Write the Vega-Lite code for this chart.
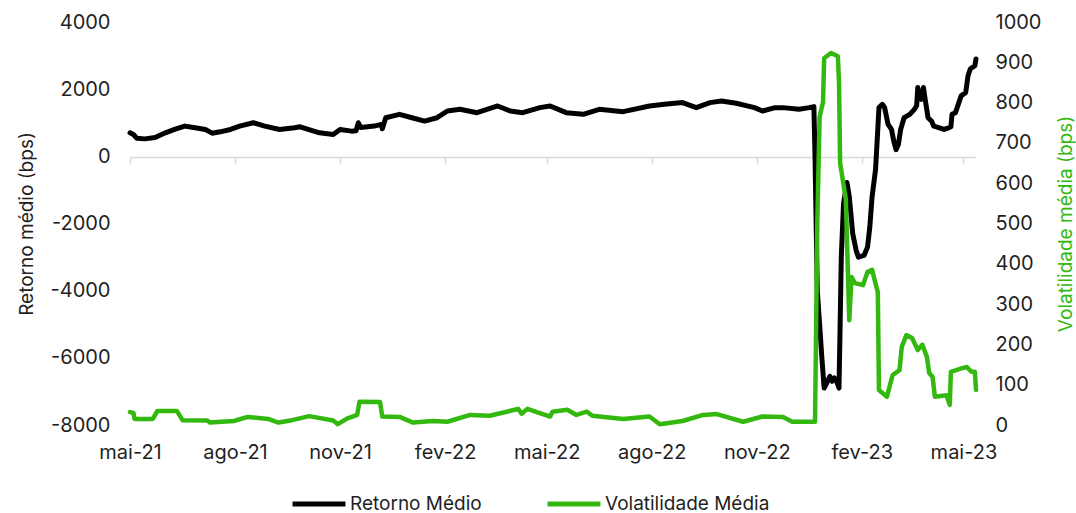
{
  "$schema": "https://vega.github.io/schema/vega-lite/v6.json",
  "width": 846,
  "height": 403,
  "autosize": {"type": "none"},
  "padding": {"left": 130, "top": 22, "right": 100, "bottom": 88},
  "config": {
    "font": "Inter",
    "view": {"stroke": null},
    "axis": {"grid": false, "labelFont": "Inter", "titleFont": "Inter", "labelColor": "#1f1f1f", "labelFontSize": 20, "titleFontSize": 19, "titleFontWeight": "normal", "titleColor": "#1f1f1f"}
  },
  "datasets": {
    "ret": [
      {"date": "2021-05-01", "v": 700}, {"date": "2021-05-04", "v": 650}, {"date": "2021-05-07", "v": 540}, {"date": "2021-05-14", "v": 520},
      {"date": "2021-05-23", "v": 560}, {"date": "2021-06-01", "v": 700}, {"date": "2021-06-09", "v": 800}, {"date": "2021-06-18", "v": 900},
      {"date": "2021-06-27", "v": 850}, {"date": "2021-07-06", "v": 800}, {"date": "2021-07-12", "v": 690}, {"date": "2021-07-19", "v": 730},
      {"date": "2021-07-28", "v": 800}, {"date": "2021-08-05", "v": 900}, {"date": "2021-08-17", "v": 1000}, {"date": "2021-08-27", "v": 900},
      {"date": "2021-09-09", "v": 800}, {"date": "2021-09-22", "v": 850}, {"date": "2021-09-27", "v": 880}, {"date": "2021-10-14", "v": 700},
      {"date": "2021-10-26", "v": 650}, {"date": "2021-11-01", "v": 800}, {"date": "2021-11-11", "v": 750}, {"date": "2021-11-15", "v": 760},
      {"date": "2021-11-17", "v": 1000}, {"date": "2021-11-19", "v": 860}, {"date": "2021-12-01", "v": 900}, {"date": "2021-12-07", "v": 950},
      {"date": "2021-12-08", "v": 820}, {"date": "2021-12-11", "v": 1150}, {"date": "2021-12-23", "v": 1250}, {"date": "2022-01-03", "v": 1150},
      {"date": "2022-01-14", "v": 1050}, {"date": "2022-01-25", "v": 1150}, {"date": "2022-02-03", "v": 1350}, {"date": "2022-02-14", "v": 1400},
      {"date": "2022-03-01", "v": 1300}, {"date": "2022-03-19", "v": 1500}, {"date": "2022-03-30", "v": 1350}, {"date": "2022-04-10", "v": 1300},
      {"date": "2022-04-25", "v": 1450}, {"date": "2022-05-04", "v": 1500}, {"date": "2022-05-18", "v": 1300}, {"date": "2022-06-02", "v": 1250},
      {"date": "2022-06-16", "v": 1400}, {"date": "2022-07-07", "v": 1330}, {"date": "2022-07-30", "v": 1500}, {"date": "2022-08-12", "v": 1550},
      {"date": "2022-08-28", "v": 1600}, {"date": "2022-09-09", "v": 1450}, {"date": "2022-09-21", "v": 1600}, {"date": "2022-10-01", "v": 1650},
      {"date": "2022-10-14", "v": 1580}, {"date": "2022-10-30", "v": 1450}, {"date": "2022-11-06", "v": 1350}, {"date": "2022-11-17", "v": 1450},
      {"date": "2022-11-24", "v": 1450}, {"date": "2022-12-08", "v": 1400}, {"date": "2022-12-17", "v": 1450}, {"date": "2022-12-21", "v": 1480},
      {"date": "2022-12-22", "v": 0}, {"date": "2022-12-24", "v": -4000}, {"date": "2022-12-26", "v": -5000}, {"date": "2022-12-28", "v": -6000},
      {"date": "2022-12-30", "v": -6900}, {"date": "2023-01-02", "v": -6700}, {"date": "2023-01-04", "v": -6550}, {"date": "2023-01-06", "v": -6700},
      {"date": "2023-01-08", "v": -6600}, {"date": "2023-01-10", "v": -6700}, {"date": "2023-01-12", "v": -6900}, {"date": "2023-01-13", "v": -5000},
      {"date": "2023-01-14", "v": -3000}, {"date": "2023-01-16", "v": -1400}, {"date": "2023-01-19", "v": -780}, {"date": "2023-01-21", "v": -1200},
      {"date": "2023-01-24", "v": -2300}, {"date": "2023-01-27", "v": -2800}, {"date": "2023-01-29", "v": -3000}, {"date": "2023-02-03", "v": -2950},
      {"date": "2023-02-06", "v": -2700}, {"date": "2023-02-08", "v": -2100}, {"date": "2023-02-10", "v": -1200}, {"date": "2023-02-13", "v": -400},
      {"date": "2023-02-14", "v": 200}, {"date": "2023-02-16", "v": 1450}, {"date": "2023-02-19", "v": 1550}, {"date": "2023-02-21", "v": 1450},
      {"date": "2023-02-24", "v": 950}, {"date": "2023-02-27", "v": 800}, {"date": "2023-03-01", "v": 450}, {"date": "2023-03-03", "v": 200},
      {"date": "2023-03-05", "v": 350}, {"date": "2023-03-07", "v": 800}, {"date": "2023-03-10", "v": 1150}, {"date": "2023-03-15", "v": 1250},
      {"date": "2023-03-19", "v": 1400}, {"date": "2023-03-21", "v": 1500}, {"date": "2023-03-22", "v": 2050}, {"date": "2023-03-23", "v": 1800},
      {"date": "2023-03-25", "v": 1700}, {"date": "2023-03-27", "v": 2050}, {"date": "2023-03-28", "v": 1800}, {"date": "2023-03-31", "v": 1150},
      {"date": "2023-04-03", "v": 1050}, {"date": "2023-04-05", "v": 900}, {"date": "2023-04-10", "v": 850}, {"date": "2023-04-14", "v": 800},
      {"date": "2023-04-18", "v": 850}, {"date": "2023-04-20", "v": 880}, {"date": "2023-04-21", "v": 1250}, {"date": "2023-04-24", "v": 1300},
      {"date": "2023-04-29", "v": 1800}, {"date": "2023-05-03", "v": 1900}, {"date": "2023-05-05", "v": 2400}, {"date": "2023-05-07", "v": 2600},
      {"date": "2023-05-09", "v": 2650}, {"date": "2023-05-11", "v": 2700}, {"date": "2023-05-12", "v": 2900}
    ],
    "vol": [
      {"date": "2021-05-01", "v": 32}, {"date": "2021-05-04", "v": 30}, {"date": "2021-05-05", "v": 15}, {"date": "2021-05-21", "v": 15},
      {"date": "2021-05-25", "v": 35}, {"date": "2021-06-11", "v": 35}, {"date": "2021-06-16", "v": 12}, {"date": "2021-07-08", "v": 11},
      {"date": "2021-07-10", "v": 6}, {"date": "2021-07-31", "v": 10}, {"date": "2021-08-12", "v": 20}, {"date": "2021-08-30", "v": 15},
      {"date": "2021-09-08", "v": 6}, {"date": "2021-09-20", "v": 12}, {"date": "2021-10-05", "v": 22}, {"date": "2021-10-26", "v": 11},
      {"date": "2021-10-30", "v": 2}, {"date": "2021-11-07", "v": 16}, {"date": "2021-11-16", "v": 25}, {"date": "2021-11-18", "v": 58},
      {"date": "2021-12-06", "v": 57}, {"date": "2021-12-08", "v": 21}, {"date": "2021-12-23", "v": 20}, {"date": "2022-01-04", "v": 6},
      {"date": "2022-01-21", "v": 10}, {"date": "2022-02-03", "v": 8}, {"date": "2022-02-23", "v": 25}, {"date": "2022-03-12", "v": 23},
      {"date": "2022-03-27", "v": 33}, {"date": "2022-04-06", "v": 40}, {"date": "2022-04-09", "v": 28}, {"date": "2022-04-14", "v": 40},
      {"date": "2022-05-04", "v": 21}, {"date": "2022-05-06", "v": 33}, {"date": "2022-05-19", "v": 38}, {"date": "2022-05-27", "v": 25},
      {"date": "2022-06-05", "v": 33}, {"date": "2022-06-10", "v": 23}, {"date": "2022-07-07", "v": 15}, {"date": "2022-07-30", "v": 21},
      {"date": "2022-08-08", "v": 2}, {"date": "2022-08-28", "v": 10}, {"date": "2022-09-15", "v": 25}, {"date": "2022-09-27", "v": 27},
      {"date": "2022-10-20", "v": 8}, {"date": "2022-11-06", "v": 21}, {"date": "2022-11-24", "v": 20}, {"date": "2022-12-02", "v": 8},
      {"date": "2022-12-22", "v": 8}, {"date": "2022-12-24", "v": 500}, {"date": "2022-12-26", "v": 764}, {"date": "2022-12-29", "v": 801},
      {"date": "2022-12-30", "v": 910}, {"date": "2023-01-05", "v": 923}, {"date": "2023-01-11", "v": 915}, {"date": "2023-01-12", "v": 850},
      {"date": "2023-01-13", "v": 650}, {"date": "2023-01-18", "v": 560}, {"date": "2023-01-21", "v": 260}, {"date": "2023-01-23", "v": 367},
      {"date": "2023-01-26", "v": 352}, {"date": "2023-02-02", "v": 347}, {"date": "2023-02-06", "v": 380}, {"date": "2023-02-10", "v": 385},
      {"date": "2023-02-14", "v": 340}, {"date": "2023-02-15", "v": 330}, {"date": "2023-02-16", "v": 87}, {"date": "2023-02-23", "v": 70},
      {"date": "2023-02-25", "v": 92}, {"date": "2023-02-28", "v": 124}, {"date": "2023-03-06", "v": 136}, {"date": "2023-03-08", "v": 194},
      {"date": "2023-03-12", "v": 223}, {"date": "2023-03-17", "v": 216}, {"date": "2023-03-22", "v": 186}, {"date": "2023-03-26", "v": 199},
      {"date": "2023-03-30", "v": 169}, {"date": "2023-04-01", "v": 129}, {"date": "2023-04-04", "v": 119}, {"date": "2023-04-06", "v": 70},
      {"date": "2023-04-16", "v": 74}, {"date": "2023-04-19", "v": 50}, {"date": "2023-04-20", "v": 132}, {"date": "2023-04-30", "v": 141},
      {"date": "2023-05-04", "v": 144}, {"date": "2023-05-08", "v": 132}, {"date": "2023-05-11", "v": 132}, {"date": "2023-05-12", "v": 87}
    ]
  },
  "layer": [
    {
      "data": {"name": "ret"},
      "mark": {"type": "line", "color": "#000000", "strokeWidth": 5, "strokeJoin": "round", "strokeCap": "round"},
      "encoding": {
        "x": {
          "field": "date", "type": "temporal",
          "scale": {"domain": [{"year": 2021, "month": 5, "date": 1}, {"year": 2023, "month": 5, "date": 12}]},
          "axis": {
            "orient": "bottom", "offset": -268, "title": null, "labels": false,
            "values": [{"year": 2021, "month": 5, "date": 1}, {"year": 2021, "month": 8, "date": 1}, {"year": 2021, "month": 11, "date": 1}, {"year": 2022, "month": 2, "date": 1}, {"year": 2022, "month": 5, "date": 1}, {"year": 2022, "month": 8, "date": 1}, {"year": 2022, "month": 11, "date": 1}, {"year": 2023, "month": 2, "date": 1}, {"year": 2023, "month": 5, "date": 1}],
            "domain": true, "domainColor": "#d9d9d9", "domainWidth": 1.5,
            "ticks": true, "tickColor": "#d9d9d9", "tickSize": 6, "tickWidth": 1.5
          }
        },
        "y": {
          "field": "v", "type": "quantitative",
          "scale": {"domain": [-8000, 4000], "nice": false, "zero": false},
          "axis": {
            "orient": "left", "values": [-8000, -6000, -4000, -2000, 0, 2000, 4000],
            "labelExpr": "'' + datum.value", "domain": false, "ticks": false, "labelPadding": 20,
            "title": "Retorno médio (bps)", "titleX": -94
          }
        },
        "color": {
          "datum": "Retorno Médio", "type": "nominal",
          "scale": {"domain": ["Retorno Médio", "Volatilidade Média"], "range": ["#000000", "#33b80f"]},
          "legend": {
            "orient": "none", "legendX": 160, "legendY": 453, "direction": "horizontal", "title": null,
            "symbolType": "stroke", "symbolSize": 2800, "symbolStrokeWidth": 5,
            "labelFontSize": 19, "labelColor": "#1f1f1f", "labelFont": "Inter", "labelOffset": 2, "labelLimit": 400, "columnPadding": 55,
            "rowPadding": 0, "padding": 0
          }
        }
      }
    },
    {
      "data": {"name": "vol"},
      "mark": {"type": "line", "color": "#33b80f", "strokeWidth": 4.5, "strokeJoin": "round", "strokeCap": "round"},
      "encoding": {
        "x": {
          "field": "date", "type": "temporal",
          "axis": {
            "orient": "bottom", "title": null, "labelFlush": false,
            "values": [{"year": 2021, "month": 5, "date": 1}, {"year": 2021, "month": 8, "date": 1}, {"year": 2021, "month": 11, "date": 1}, {"year": 2022, "month": 2, "date": 1}, {"year": 2022, "month": 5, "date": 1}, {"year": 2022, "month": 8, "date": 1}, {"year": 2022, "month": 11, "date": 1}, {"year": 2023, "month": 2, "date": 1}, {"year": 2023, "month": 5, "date": 1}],
            "labelExpr": "['jan','fev','mar','abr','mai','jun','jul','ago','set','out','nov','dez'][month(datum.value)] + '-' + timeFormat(datum.value, '%y')",
            "domain": false, "ticks": false, "labelPadding": 17
          }
        },
        "y": {
          "field": "v", "type": "quantitative",
          "scale": {"domain": [0, 1000], "nice": false},
          "axis": {
            "orient": "right", "values": [0, 100, 200, 300, 400, 500, 600, 700, 800, 900, 1000], "format": "d",
            "domain": false, "ticks": false, "labelPadding": 19,
            "title": "Volatilidade média (bps)", "titleColor": "#33b80f", "titleAngle": 270, "titleX": 99
          }
        },
        "color": {"datum": "Volatilidade Média", "type": "nominal"}
      }
    }
  ],
  "resolve": {"scale": {"y": "independent"}, "axis": {"x": "independent", "y": "independent"}}
}
